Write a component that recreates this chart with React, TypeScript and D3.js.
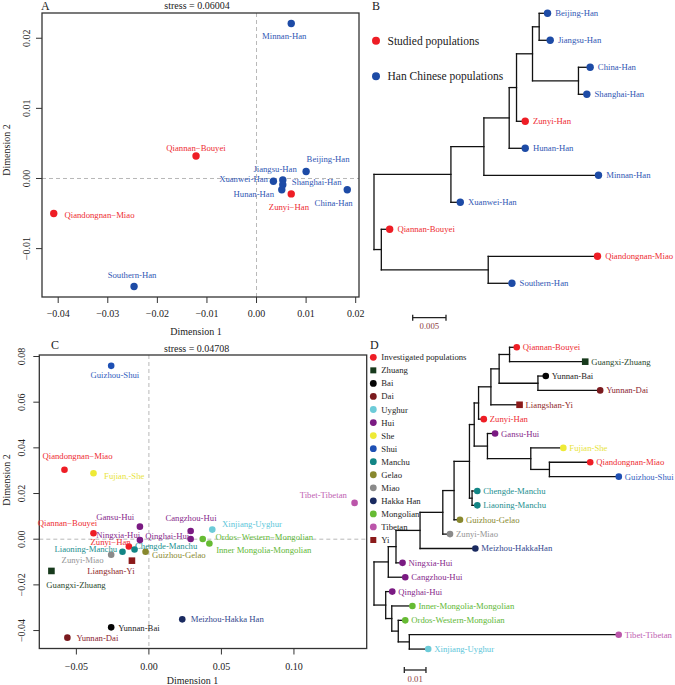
import * as d3 from 'd3'

// ── Panel A: MDS of studied vs Han Chinese populations ─────────────────────
const A_NAMES = [
  'Minnan-Han', 'Qiannan−Bouyei', 'Beijing-Han', 'Jiangsu-Han', 'Xuanwei-Han', 'Shanghai-Han',
  'Hunan-Han', 'Zunyi−Han', 'China-Han', 'Qiandongnan−Miao', 'Southern-Han',
]
const A_DIM1 = [0.0070, -0.0122, 0.0100, 0.0053, 0.0034, 0.0053, 0.0051, 0.0070, 0.0183, -0.0409, -0.0247]
const A_DIM2 = [0.0221, 0.0032, 0.0010, -0.0002, -0.0004, -0.0009, -0.0016, -0.0022, -0.0016, -0.0050, -0.0154]
const A_STUDIED = [false, true, false, false, false, false, false, true, false, true, false]
const A_XTICKS = [-0.04, -0.03, -0.02, -0.01, 0, 0.01, 0.02]
const A_YTICKS = [-0.01, 0, 0.01, 0.02]
const A_STRESS = 'stress = 0.06004'

// ── Panel B: tree of studied vs Han Chinese populations ────────────────────
const B_TREE =
  '(((((((Beijing-Han:0.0007,Jiangsu-Han:0.0011):0.001,(China-Han:0.0012,Shanghai-Han:0.0007):0.0069):0.0024,' +
  'Zunyi-Han:0.00075):0.0011,Hunan-Han:0.00185):0.0038,Minnan-Han:0.01665):0.00495,Xuanwei-Han:0.00085):0.01155,' +
  '(Qiannan-Bouyei:0.0007,(Qiandongnan-Miao:0.01585,Southern-Han:0.003):0.01605):0.0011);'
const B_STUDIED = ['Zunyi-Han', 'Qiannan-Bouyei', 'Qiandongnan-Miao']
const B_LEGEND = ['Studied populations', 'Han Chinese populations']
const B_SCALE = 0.005

// ── Panel C: MDS of all populations ─────────────────────────────────────────
const C_NAMES = [
  'Guizhou-Shui', 'Qiandongnan−Miao', 'Fujian,-She', 'Tibet-Tibetan', 'Gansu-Hui', 'Qiannan−Bouyei',
  'Ningxia-Hui', 'Zunyi−Han', 'Liaoning-Manchu', 'Chengde-Manchu', 'Zunyi-Miao', 'Liangshan-Yi',
  'Guizhou-Gelao', 'Guangxi-Zhuang', 'Cangzhou-Hui', 'Qinghai-Hui', 'Xinjiang-Uyghur',
  'Ordos−Western−Mongolian', 'Inner Mongolia-Mongolian', 'Meizhou-Hakka Han', 'Yunnan-Bai', 'Yunnan-Dai',
]
const C_DIM1 = [
  -0.026, -0.0582, -0.0382, 0.1418, -0.0062, -0.0382, -0.0062, -0.0138, -0.0182, -0.0099, -0.026,
  -0.0117, -0.0023, -0.0672, 0.0288, 0.0288, 0.0437, 0.0371, 0.0417, 0.023, -0.026, -0.0562,
]
const C_DIM2 = [
  0.0759, 0.0304, 0.0289, 0.0159, 0.0055, 0.0026, -0.0004, -0.0032, -0.0055, -0.0045, -0.0068,
  -0.0094, -0.0055, -0.0139, 0.0036, 0.0001, 0.0042, 0.0001, -0.0019, -0.0351, -0.0386, -0.0431,
]
const C_GROUP = [
  'Shui', 'Investigated populations', 'She', 'Tibetan', 'Hui', 'Investigated populations', 'Hui',
  'Investigated populations', 'Manchu', 'Manchu', 'Miao', 'Yi', 'Gelao', 'Zhuang', 'Hui', 'Hui', 'Uyghur',
  'Mongolian', 'Mongolian', 'Hakka Han', 'Bai', 'Dai',
]
const C_XTICKS = [-0.05, 0, 0.05, 0.1]
const C_YTICKS = [-0.04, -0.02, 0, 0.02, 0.04, 0.06, 0.08]
const C_STRESS = 'stress = 0.04708'

// ── Panel D: tree of all populations ────────────────────────────────────────
const D_TREE =
  '((((((((((((Qiannan-Bouyei:0.0018,Guangxi-Zhuang:0.0334):0.0048,(Yunnan-Bai:0.0021,Yunnan-Dai:0.0272):0.0179):0.0038,' +
  'Liangshan-Yi:0.0117):0.0057,Zunyi-Han:0.0009):0.002,(Gansu-Hui:0.002,(Fujian-She:0.0135,' +
  '(Qiandongnan-Miao:0.0173,Guizhou-Shui:0.0305):0.0086):0.02):0.0061):0.0022,' +
  '(Chengde-Manchu:0.0009,Liaoning-Manchu:0.0009):0.0012):0.0071,Guizhou-Gelao:0.0012):0.0052,' +
  'Zunyi-Miao:0.0018):0.0105,Meizhou-HakkaHan:0.024):0.0111,Ningxia-Hui:0.0015):0.00355,Cangzhou-Hui:0.0063):0.0066,' +
  '(Qinghai-Hui:0.0015,(Inner-Mongolia-Mongolian:0.008,(Ordos-Western-Mongolian:0.0017,' +
  '(Tibet-Tibetan:0.0951,Xinjiang-Uyghur:0.0072):0.0051):0.003):0.0028):0.0054);'
const D_TIPS = [
  'Qiannan-Bouyei', 'Guangxi-Zhuang', 'Yunnan-Bai', 'Yunnan-Dai', 'Liangshan-Yi', 'Zunyi-Han', 'Gansu-Hui',
  'Fujian-She', 'Qiandongnan-Miao', 'Guizhou-Shui', 'Chengde-Manchu', 'Liaoning-Manchu', 'Guizhou-Gelao',
  'Zunyi-Miao', 'Meizhou-HakkaHan', 'Ningxia-Hui', 'Cangzhou-Hui', 'Qinghai-Hui', 'Inner-Mongolia-Mongolian',
  'Ordos-Western-Mongolian', 'Tibet-Tibetan', 'Xinjiang-Uyghur',
]
const D_TIP_GROUP = [
  'Investigated populations', 'Zhuang', 'Bai', 'Dai', 'Yi', 'Investigated populations', 'Hui', 'She',
  'Investigated populations', 'Shui', 'Manchu', 'Manchu', 'Gelao', 'Miao', 'Hakka Han', 'Hui', 'Hui', 'Hui',
  'Mongolian', 'Mongolian', 'Tibetan', 'Uyghur',
]
const D_SCALE = 0.01
const GROUPS = [
  'Investigated populations', 'Zhuang', 'Bai', 'Dai', 'Uyghur', 'Hui', 'She', 'Shui', 'Manchu', 'Gelao',
  'Miao', 'Hakka Han', 'Mongolian', 'Tibetan', 'Yi',
]

// ── Styles ──────────────────────────────────────────────────────────────────
const FONT = '"Liberation Serif", "Times New Roman", serif'
const RED = '#ee1d25'
const RED_TXT = '#ee2d33'
const BLUE = '#1d4ba6'
const BLUE_TXT = '#3158b4'
const GROUP_STYLE: Record<string, { dot: string; text: string; square?: boolean }> = {
  'Investigated populations': { dot: RED, text: RED_TXT },
  Zhuang: { dot: '#173a1c', text: '#2b4a2e', square: true },
  Bai: { dot: '#050505', text: '#1e1e1e' },
  Dai: { dot: '#7a1a1e', text: '#8a2430' },
  Uyghur: { dot: '#6ccbd8', text: '#5cc6da' },
  Hui: { dot: '#7a1a82', text: '#872a8c' },
  She: { dot: '#eeea36', text: '#e8e43c' },
  Shui: { dot: '#1e50b4', text: '#3462c0' },
  Manchu: { dot: '#138585', text: '#239090' },
  Gelao: { dot: '#88882e', text: '#8a8a32' },
  Miao: { dot: '#8a8a8a', text: '#959595' },
  'Hakka Han': { dot: '#1a2a60', text: '#34498e' },
  Mongolian: { dot: '#66bb33', text: '#62b836' },
  Tibetan: { dot: '#bb55aa', text: '#c062b2' },
  Yi: { dot: '#8b1a1a', text: '#8f2a2a', square: true },
}

type Anchor = 'start' | 'middle' | 'end'
// label centre offsets from the point (px), placed by hand as in the figure
const A_LABEL: [number, number, Anchor][] = [
  [-7, 12.5, 'middle'], [0, -8, 'middle'], [0.5, -12.3, 'start'], [-7.7, -11.3, 'middle'],
  [-5.5, -2.7, 'end'], [9, -2.6, 'start'], [-28, 4.7, 'middle'], [-2.3, 12.7, 'middle'],
  [-13.6, 13.7, 'middle'], [10.7, 1.7, 'start'], [-2, -11.7, 'middle'],
]
const C_LABEL: [number, number, Anchor][] = [
  [3.7, 9.5, 'middle'], [13, -13.3, 'middle'], [10.6, 2.4, 'start'], [-31.3, -8.3, 'middle'],
  [-24.7, -9.3, 'middle'], [-26, -10.7, 'middle'], [-21.7, -5.3, 'middle'], [-18.3, -5, 'middle'],
  [-36.7, -2.7, 'middle'], [31.6, -3, 'middle'], [-28.6, 5.3, 'middle'], [-21, 10.6, 'middle'],
  [33.3, 3, 'middle'], [24.6, 14, 'middle'], [0.3, -13.4, 'middle'], [-23.4, -3, 'middle'],
  [39.7, -6, 'middle'], [61.6, -2.4, 'middle'], [54.4, 6.7, 'middle'], [8.4, 0, 'start'],
  [7, 0.3, 'start'], [9, 0.7, 'start'],
]

// ── Helpers ─────────────────────────────────────────────────────────────────
function padded(v: number[]): [number, number] {
  const [lo, hi] = d3.extent(v) as [number, number]
  const p = (hi - lo) * 0.04
  return [lo - p, hi + p]
}

type PNode = { name: string; length: number; children: PNode[] }

function parseNewick(s: string): PNode {
  let i = 0
  function node(): PNode {
    const n: PNode = { name: '', length: 0, children: [] }
    if (s[i] === '(') {
      i++
      n.children.push(node())
      while (s[i] === ',') { i++; n.children.push(node()) }
      i++
    }
    let name = ''
    while (i < s.length && !':,);'.includes(s[i])) name += s[i++]
    n.name = name.trim()
    if (s[i] === ':') {
      i++
      let num = ''
      while (i < s.length && !',);'.includes(s[i])) num += s[i++]
      n.length = +num
    }
    return n
  }
  return node()
}

function Mark({ cx, cy, r, color, square }: { cx: number; cy: number; r: number; color: string; square?: boolean }) {
  return square
    ? <rect x={cx - r} y={cy - r} width={2 * r} height={2 * r} fill={color} />
    : <circle cx={cx} cy={cy} r={r} fill={color} />
}

interface MdsProps {
  letter: string; letterX: number; letterY: number
  stress: string; stressX: number; stressY: number
  left: number; right: number; top: number; bottom: number
  names: string[]; dim1: number[]; dim2: number[]
  labels: [number, number, Anchor][]
  style: (i: number) => { dot: string; text: string; square?: boolean }
  r: number
  xTicks: number[]; yTicks: number[]; xTickY: number; yTickX: number
  xTitle: [number, number]; yTitle: [number, number]
}

function MdsPanel(p: MdsProps) {
  const x = d3.scaleLinear(padded(p.dim1), [p.left, p.right])
  const y = d3.scaleLinear(padded(p.dim2), [p.bottom, p.top])
  const fmt = d3.format('.2f')
  return (
    <g>
      <line x1={x(0)} x2={x(0)} y1={p.top} y2={p.bottom} stroke="#b8b8b8" strokeWidth={1} strokeDasharray="4,3" />
      <line x1={p.left} x2={p.right} y1={y(0)} y2={y(0)} stroke="#b8b8b8" strokeWidth={1} strokeDasharray="4,3" />
      {p.xTicks.map(t => (
        <g key={'x' + t}>
          <line x1={x(t)} x2={x(t)} y1={p.bottom} y2={p.bottom + 6} stroke="#333" strokeWidth={1} />
          <text x={x(t)} y={p.xTickY} textAnchor="middle" dominantBaseline="central" fontSize={10} fill="#222">{fmt(t)}</text>
        </g>
      ))}
      {p.yTicks.map(t => (
        <g key={'y' + t}>
          <line x1={p.left} x2={p.left - 6} y1={y(t)} y2={y(t)} stroke="#333" strokeWidth={1} />
          <text transform={`translate(${p.yTickX},${y(t)}) rotate(-90)`} textAnchor="middle" dominantBaseline="central"
            fontSize={10} fill="#222">{fmt(t)}</text>
        </g>
      ))}
      <rect x={p.left} y={p.top} width={p.right - p.left} height={p.bottom - p.top} fill="none" stroke="#333" strokeWidth={1.3} />
      {p.names.map((n, i) => {
        const st = p.style(i)
        return <Mark key={n} cx={x(p.dim1[i])} cy={y(p.dim2[i])} r={p.r} color={st.dot} square={st.square} />
      })}
      {p.names.map((n, i) => {
        const [dx, dy, anchor] = p.labels[i]
        return (
          <text key={'l' + n} x={x(p.dim1[i]) + dx} y={y(p.dim2[i]) + dy} textAnchor={anchor} dominantBaseline="central"
            fontSize={8.7} fill={p.style(i).text}>{n}</text>
        )
      })}
      <text x={p.letterX} y={p.letterY} fontSize={12} fill="#222">{p.letter}</text>
      <text x={p.stressX} y={p.stressY} textAnchor="middle" dominantBaseline="central" fontSize={10} fill="#222">{p.stress}</text>
      <text x={p.xTitle[0]} y={p.xTitle[1]} textAnchor="middle" dominantBaseline="central" fontSize={10} fill="#222">Dimension 1</text>
      <text transform={`translate(${p.yTitle[0]},${p.yTitle[1]}) rotate(-90)`} textAnchor="middle" dominantBaseline="central"
        fontSize={10} fill="#222">Dimension 2</text>
    </g>
  )
}

interface TreeProps {
  newick: string
  x0: number; scaleLen: number; scalePx: number
  yTop: number; step: number
  r: number; labelGap: number
  style: (name: string) => { dot: string; text: string; square?: boolean }
  bar: { x: number; y: number; label: string }
}

function Phylo(p: TreeProps) {
  const root = d3.hierarchy(parseNewick(p.newick), d => (d.children.length ? d.children : null))
  const x = d3.scaleLinear([0, p.scaleLen], [p.x0, p.x0 + p.scalePx])
  const leaves = root.leaves()
  const y = d3.scaleLinear([0, leaves.length - 1], [p.yTop, p.yTop + p.step * (leaves.length - 1)])
  const depth = new Map<any, number>()
  const ypos = new Map<any, number>()
  root.eachBefore(n => depth.set(n, n.parent ? depth.get(n.parent)! + n.data.length : 0))
  leaves.forEach((l, i) => ypos.set(l, y(i)))
  root.eachAfter(n => {
    if (n.children) ypos.set(n, (ypos.get(n.children[0])! + ypos.get(n.children[n.children.length - 1])!) / 2)
  })
  const nodes = root.descendants()
  const barW = x(p.scaleLen) - x(0)
  return (
    <g>
      {nodes.map((n, i) => (
        <g key={i}>
          {n.children && (
            <line x1={x(depth.get(n)!)} x2={x(depth.get(n)!)} y1={ypos.get(n.children[0])}
              y2={ypos.get(n.children[n.children.length - 1])} stroke="#111" strokeWidth={1.3} strokeLinecap="square" />
          )}
          {n.parent && (
            <line x1={x(depth.get(n.parent)!)} x2={x(depth.get(n)!)} y1={ypos.get(n)} y2={ypos.get(n)}
              stroke="#111" strokeWidth={1.3} strokeLinecap="square" />
          )}
        </g>
      ))}
      {leaves.map(l => {
        const st = p.style(l.data.name)
        const cx = x(depth.get(l)!) + p.r
        const cy = ypos.get(l)!
        return (
          <g key={l.data.name}>
            <Mark cx={cx} cy={cy} r={p.r} color={st.dot} square={st.square} />
            <text x={cx + p.labelGap} y={cy} dominantBaseline="central" fontSize={8.7} fill={st.text}>{l.data.name}</text>
          </g>
        )
      })}
      <g stroke="#222" strokeWidth={1.3}>
        <line x1={p.bar.x} x2={p.bar.x + barW} y1={p.bar.y} y2={p.bar.y} />
        <line x1={p.bar.x} x2={p.bar.x} y1={p.bar.y - 3} y2={p.bar.y + 3} />
        <line x1={p.bar.x + barW} x2={p.bar.x + barW} y1={p.bar.y - 3} y2={p.bar.y + 3} />
      </g>
      <text x={p.bar.x + barW / 2} y={p.bar.y + 8.5} textAnchor="middle" dominantBaseline="central" fontSize={8.7}
        fill="#8b3a3a">{p.bar.label}</text>
    </g>
  )
}

export default function App() {
  const aStyle = (i: number) => (A_STUDIED[i] ? { dot: RED, text: RED_TXT } : { dot: BLUE, text: BLUE_TXT })
  const bStyle = (n: string) => (B_STUDIED.includes(n) ? { dot: RED, text: RED_TXT } : { dot: BLUE, text: BLUE_TXT })
  const cStyle = (i: number) => GROUP_STYLE[C_GROUP[i]]
  const dStyle = (n: string) => GROUP_STYLE[D_TIP_GROUP[D_TIPS.indexOf(n)]]

  return (
    <svg width={675} height={685} style={{ position: 'absolute', left: 0, top: 0, background: '#fff', fontFamily: FONT }}>
      <MdsPanel letter="A" letterX={41} letterY={10} stress={A_STRESS} stressX={197} stressY={5.7}
        left={42} right={359} top={13} bottom={297}
        names={A_NAMES} dim1={A_DIM1} dim2={A_DIM2} labels={A_LABEL} style={aStyle} r={3.7}
        xTicks={A_XTICKS} yTicks={A_YTICKS} xTickY={313} yTickX={26.7}
        xTitle={[196, 331.5]} yTitle={[6.5, 150]} />

      <text x={372} y={10} fontSize={12} fill="#222">B</text>
      {B_LEGEND.map((t, i) => (
        <g key={t}>
          <circle cx={376} cy={40.7 + i * 35.5} r={4} fill={i === 0 ? RED : BLUE} />
          <text x={387.5} y={40.7 + i * 35.5} dominantBaseline="central" fontSize={11.5} fill="#1a1a1a">{t}</text>
        </g>
      ))}
      <Phylo newick={B_TREE} x0={374} scaleLen={B_SCALE} scalePx={33.3} yTop={13.3} step={27} r={3.7} labelGap={7.7}
        style={bStyle} bar={{ x: 412.7, y: 317.7, label: '0.005' }} />

      <MdsPanel letter="C" letterX={51} letterY={349} stress={C_STRESS} stressX={196.7} stressY={348.3}
        left={39.3} right={366.7} top={355} bottom={648.5}
        names={C_NAMES} dim1={C_DIM1} dim2={C_DIM2} labels={C_LABEL} style={cStyle} r={3.3}
        xTicks={C_XTICKS} yTicks={C_YTICKS} xTickY={666.7} yTickX={21.7}
        xTitle={[192.5, 680]} yTitle={[6.5, 480]} />

      <text x={370} y={348.5} fontSize={12} fill="#222">D</text>
      {GROUPS.map((g, i) => {
        const st = GROUP_STYLE[g]
        const cy = 357.3 + i * 13.05
        return (
          <g key={g}>
            <Mark cx={373.3} cy={cy} r={st.square ? 3 : 3.4} color={st.dot} square={st.square} />
            <text x={381.3} y={cy} dominantBaseline="central" fontSize={8.7} fill="#1e1e1e">{g}</text>
          </g>
        )
      })}
      <Phylo newick={D_TREE} x0={374} scaleLen={D_SCALE} scalePx={21.67} yTop={347.3} step={14.37} r={3.3} labelGap={6}
        style={dStyle} bar={{ x: 404.3, y: 670, label: '0.01' }} />
    </svg>
  )
}
